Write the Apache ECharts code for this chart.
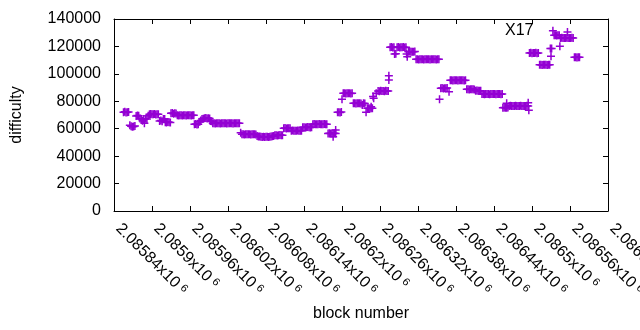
<!DOCTYPE html>
<html><head><meta charset="utf-8">
<script src="https://cdn.jsdelivr.net/npm/echarts@6/dist/echarts.min.js"></script>
<style>html,body{margin:0;padding:0;background:#fff}#c{width:640px;height:330px}</style>
</head><body><div id="c"></div>
<script>
// ---- data ----
const seriesName = 'X17';
const blockNumbers = [
2085855,2085857,2085859,2085861,2085863,
2085865,2085867,2085869,2085871,2085873,
2085875,2085877,2085879,
2085881,2085883,2085885,2085887,2085888,2085890,2085892,
2085894,2085896,2085898,2085900,2085902,2085904,2085906,2085908,2085910,
2085912,2085914,2085916,
2085918,2085920,
2085921,2085923,2085925,2085927,2085929,
2085930,2085932,2085934,2085936,2085938,
2085940,2085942,2085944,2085946,2085948,2085950,2085952,2085954,2085956,2085958,2085960,2085962,2085964,2085966,
2085967,2085969,2085971,2085973,
2085975,2085977,2085979,2085981,
2085983,2085985,2085987,2085989,2085991,
2085992,2085994,
2085996,2085998,2086000,2086002,2086004,2086006,2086008,2086010,2086012,2086014,2086016,2086018,2086020,2086022,2086024,2086026,2086028,2086030,2086032,2086034,2086036,2086038,
2086040,
2086042,2086044,2086046,2086048,2086050,2086052,2086054,2086056,2086058,2086060,2086062,2086064,
2086066,2086068,2086070,2086072,2086074,2086076,2086078,2086080,2086082,2086084,2086086,2086088,2086090,2086092,
2086094,2086096,2086098,2086100,2086102,2086104,2086106,
2086108,2086110,2086112,2086114,2086116,2086118,
2086120,2086122,2086124,2086126,2086128,2086130,2086132,2086134,2086136,
2086138,2086140,2086142,2086144,2086146,2086148,2086150,2086152,
2086154,2086156,2086158,2086160,2086162,2086164,2086166,2086168,2086170,2086172,2086174,2086176,
2086178,2086180,2086182,2086184,2086186,2086188,2086190,2086186,2086190,
2086193,2086195,2086197,2086199,
2086200,
2086202,2086204,2086206,2086208,2086210,2086212,2086214,2086216,
2086218,2086220,2086222,2086224,2086226,2086228,2086230,2086232,2086234,2086236,
2086238,2086240,2086242,2086244,2086246,2086248,
2086246,2086249,2086250,2086254,
2086257,2086259,2086261,2086263,2086265,2086267,2086269,2086271,2086273,
2086274,2086274,
2086276,2086278,2086280,2086282,
2086283,2086285,
2086287,2086289,2086291,2086293,2086295,2086297,2086299,2086301,
2086302,2086303,
2086305,2086307,2086309,2086311,2086313,2086315,
2086317,2086319,2086321,2086323,2086325,2086327,2086329,2086331,2086333,2086335,2086337,2086339,2086341,2086343,2086345,2086347,2086349,2086351,2086353,
2086354,
2086356,2086358,2086360,2086362,2086364,2086366,
2086369,
2086371,2086373,2086375,2086377,2086379,2086381,2086383,2086385,2086387,2086389,2086391,2086393,2086395,
2086397,2086399,2086401,2086403,2086405,2086407,2086409,
2086411,2086413,2086415,2086417,2086419,
2086421,2086423,2086425,2086427,2086429,2086431,2086433,2086435,2086437,2086439,2086441,2086443,2086445,2086447,2086449,2086451,2086453,
2086454,2086456,2086458,2086460,2086462,2086460,
2086464,2086466,2086468,2086470,2086472,2086474,2086476,2086478,2086480,2086482,2086484,2086486,2086488,2086490,2086492,
2086494,2086494,2086495,
2086496,2086498,2086500,2086502,2086504,2086506,2086508,2086510,
2086512,2086514,2086516,2086518,2086520,2086522,2086524,2086526,2086528,
2086529,2086531,2086530,
2086533,
2086535,2086537,2086539,2086541,2086543,
2086544,
2086556,
2086545,2086547,2086549,2086551,2086553,2086555,2086557,2086559,2086561,2086563,2086565,
2086567,2086569,2086571,2086573,2086575
];
const difficulty = [
72000,72300,71800,72000,72200,
62500,61800,61400,61600,62000,
69300,69600,69500,
67500,67100,65800,67000,64000,67200,67000,
69500,70500,70800,70600,70500,70700,70400,70500,70600,
65600,65900,65500,
67100,67000,
64700,64500,64900,64700,64600,
71200,71400,71000,71200,71100,
69900,69700,69800,69800,69600,69900,69800,69700,69800,69900,69800,69700,69800,69800,
63200,63400,63000,63200,
65100,66000,67100,67300,
67600,67800,67500,67600,67400,
65600,65500,
63900,64000,63800,63900,64000,63900,63800,63900,63900,64000,63900,63800,63900,63900,64000,63900,63800,63900,63900,64000,63900,63900,
57100,
55900,56000,55800,55900,55900,56000,55900,55800,55900,55900,56000,55800,
54600,54400,54300,54200,54000,54100,54000,54200,54100,54000,54200,54300,54500,54600,
55200,55300,55100,55200,55400,55200,55300,
60300,60500,60200,60300,60400,60300,
58600,58700,58500,58600,58600,58700,58500,58600,58600,
61000,61100,60900,61000,61200,61000,60900,61000,
63300,63400,63200,63300,63300,63400,63200,63300,63300,63400,63300,63200,
56600,56700,56500,56600,56600,56700,56500,54200,59000,
72000,72000,71800,72100,
81400,
85800,85900,85700,85800,85800,85900,85700,85800,
78500,78600,78400,78500,78500,78600,78400,77300,78500,78400,
72000,74900,75000,74800,74900,75000,
76100,83400,82200,85800,
87500,87400,87600,87500,87500,87400,87600,87500,87500,
95500,98700,
119400,119500,119300,119400,
114500,114600,
119400,119500,119300,119400,119400,119500,119300,119400,
114500,112500,
116200,116300,116100,116200,116200,116300,
110600,110700,110500,110600,110600,110700,110500,110600,110600,110700,110600,110500,110600,110600,110700,110600,110500,110600,110600,
81400,
89500,89600,89400,89500,89500,89600,
87000,
95300,95400,95200,95300,95300,95400,95200,95300,95300,95400,95300,95200,95300,
88700,88800,88600,88700,88700,88800,88600,
87700,87800,87600,87700,87700,
85300,85400,85200,85300,85300,85400,85200,85300,85300,85400,85300,85200,85300,85300,85400,85200,85300,
75300,75400,75200,75300,75400,78500,
76600,76700,76500,76600,76600,76700,76500,76600,76600,76700,76600,76500,76600,76600,76700,
79000,76500,73500,
115200,115300,115100,115200,115200,115300,115100,115200,
106600,106700,106500,106600,106600,106700,106500,106600,106600,
118400,118400,112800,
131500,
128100,128200,128000,128100,128100,
120100,
130500,
126200,126300,126100,126200,126200,126300,126200,126200,126200,126300,126200,
112100,112200,112000,112100,112100
];
const xTickLabels = ['2.08584','2.0859','2.08596','2.08602','2.08608','2.08614','2.0862','2.08626','2.08632','2.08638','2.08644','2.0865','2.08656','2.08662'];
const yTickLabels = ['0','20000','40000','60000','80000','100000','120000','140000'];
const xName = 'block number';
const yName = 'difficulty';

// ---- chart ----
const FONT = '"Liberation Sans", Arial, sans-serif';
const xMin = 2085840, xStep = 60, xMax = xMin + xStep * (xTickLabels.length - 1);
const yStep = 20000, yMax = yStep * (yTickLabels.length - 1);
const plus = 'path://M3.25,0H4.75V3.25H8V4.75H4.75V8H3.25V4.75H0V3.25H3.25Z';
const lineStyle = {color: '#000', width: 1};
const chart = echarts.init(document.getElementById('c'), null, {renderer: 'canvas'});
const baseX = {type: 'value', min: xMin, max: xMax, interval: xStep, splitLine: {show: false},
  axisLine: {show: true, onZero: false, lineStyle}, axisTick: {show: true, inside: true, length: 5, lineStyle}};
const baseY = {type: 'value', min: 0, max: yMax, interval: yStep, splitLine: {show: false},
  axisLine: {show: true, onZero: false, lineStyle}, axisTick: {show: true, inside: true, length: 5, lineStyle}};
chart.setOption({
  animation: false,
  backgroundColor: '#fff',
  grid: {left: 114, top: 19, width: 494, height: 192, containLabel: false, outerBoundsMode: 'none'},
  xAxis: [
    Object.assign({}, baseX, {position: 'bottom', name: xName, nameLocation: 'middle', nameGap: 95,
      nameTextStyle: {fontFamily: FONT, fontSize: 16, color: '#000'},
      axisLabel: {show: true, rotate: -45, margin: 11, padding: [0, 0, 0, 6], color: '#000', hideOverlap: false,
        formatter: v => '{m|' + xTickLabels[Math.round((v - xMin) / xStep)] + 'x10}{s|6}',
        rich: {m: {fontFamily: FONT, fontSize: 16, color: '#000'},
               s: {fontFamily: FONT, fontSize: 11, color: '#000', verticalAlign: 'top', padding: [0, 0, 0, 4]}}}}),
    Object.assign({}, baseX, {position: 'top', axisLabel: {show: false}})
  ],
  yAxis: [
    Object.assign({}, baseY, {position: 'left', name: yName, nameLocation: 'middle', nameGap: 89,
      nameTextStyle: {fontFamily: FONT, fontSize: 16, color: '#000'},
      axisLabel: {show: true, margin: 13, fontFamily: FONT, fontSize: 16, color: '#000',
        formatter: v => yTickLabels[Math.round(v / yStep)]}}),
    Object.assign({}, baseY, {position: 'right', axisLabel: {show: false}})
  ],
  graphic: [{type: 'text', left: 505, top: 23, style: {text: seriesName, fontFamily: FONT, fontSize: 16, fill: '#000'}}],
  series: [{
    name: seriesName, type: 'scatter', xAxisIndex: 0, yAxisIndex: 0,
    symbol: plus, symbolSize: 8,
    itemStyle: {color: '#9400d3', opacity: 1},
    data: blockNumbers.map((b, i) => [b, difficulty[i]])
  }]
});
</script></body></html>
